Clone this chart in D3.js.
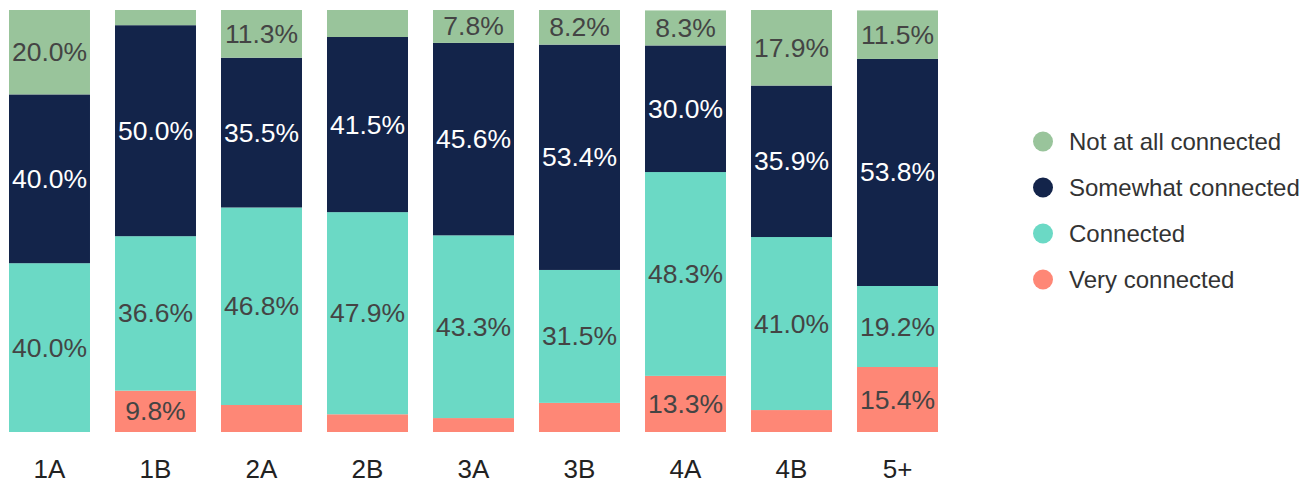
<!DOCTYPE html>
<html><head><meta charset="utf-8">
<script src="https://cdn.jsdelivr.net/npm/d3@7"></script>
<style>body{margin:0;background:#fff;} svg{display:block;font-family:"Liberation Sans",Arial,sans-serif;}</style>
</head><body>
<svg id="chart" width="1316" height="483"></svg>
<script>
const categories = ["1A","1B","2A","2B","3A","3B","4A","4B","5+"];
const seriesNames = ["Very connected","Connected","Somewhat connected","Not at all connected"];
const veryConnected = [0, 9.8, 6.4, 4.2, 3.3, 6.9, 13.3, 5.2, 15.4];
const connected = [40.0, 36.6, 46.8, 47.9, 43.3, 31.5, 48.3, 41.0, 19.2];
const somewhatConnected = [40.0, 50.0, 35.5, 41.5, 45.6, 53.4, 30.0, 35.9, 53.8];
const notAtAllConnected = [20.0, 3.6, 11.3, 6.4, 7.8, 8.2, 8.3, 17.9, 11.5];
const colors = ["#fe8776", "#6bd9c5", "#13244a", "#99c49b"];
const labelColors = ["#444", "#444", "#fff", "#444"];

const seriesValues = [veryConnected, connected, somewhatConnected, notAtAllConnected];
const table = categories.map((c, i) => {
  const o = {cat: c};
  seriesNames.forEach((s, k) => o[s] = seriesValues[k][i]);
  return o;
});

const svg = d3.select("#chart");
const x = d3.scaleBand().domain(categories).range([9, 938]).paddingInner(0.236).paddingOuter(0);
const y = d3.scaleLinear().domain([0, 100]).range([432, 10]);

const stack = d3.stack().keys(seriesNames);
const stacked = stack(table);

const g = svg.append("g");
stacked.forEach((layer, k) => {
  const lg = g.append("g");
  lg.selectAll("rect").data(layer).join("rect")
    .attr("x", d => x(d.data.cat))
    .attr("width", x.bandwidth())
    .attr("y", d => y(Math.min(d[1], 100)))
    .attr("height", d => Math.max(0, y(d[0]) - y(Math.min(d[1], 100))))
    .attr("fill", colors[k]);
});
stacked.forEach((layer, k) => {
  g.append("g").selectAll("text").data(layer.filter(d => (d[1] - d[0]) >= 7.5)).join("text")
    .attr("x", d => x(d.data.cat) + x.bandwidth() / 2)
    .attr("y", d => (y(d[0]) + y(Math.min(d[1], 100))) / 2)
    .attr("text-anchor", "middle")
    .attr("dominant-baseline", "central")
    .attr("font-size", 26.5)
    .attr("fill", labelColors[k])
    .text(d => (d[1] - d[0]).toFixed(1) + "%");
});

const xAxis = svg.append("g").attr("transform", "translate(0,432)")
  .call(d3.axisBottom(x).tickSize(0).tickPadding(28));
xAxis.select(".domain").remove();
xAxis.selectAll("text").attr("font-size", 26).attr("fill", "#222")
  .attr("font-family", "Liberation Sans, Arial, sans-serif");

const legendOrder = [3, 2, 1, 0];
const leg = svg.append("g");
legendOrder.forEach((k, i) => {
  const cy = 141.5 + i * 46;
  leg.append("circle").attr("cx", 1043).attr("cy", cy).attr("r", 10).attr("fill", colors[k]);
  leg.append("text").attr("x", 1069).attr("y", cy).attr("dominant-baseline", "central")
    .attr("font-size", 24).attr("fill", "#333").text(seriesNames[k]);
});
</script>
</body></html>
